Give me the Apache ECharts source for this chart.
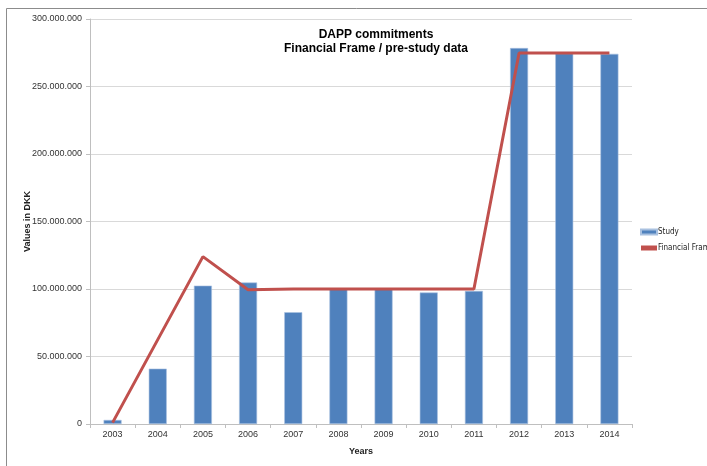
<!DOCTYPE html>
<html><head><meta charset="utf-8">
<script src="https://cdn.jsdelivr.net/npm/echarts@6/dist/echarts.min.js"></script>
<style>html,body{margin:0;padding:0;background:#fff}#c{width:707px;height:466px}</style>
</head><body><div id="c"></div>
<script>
const years = ['2003','2004','2005','2006','2007','2008','2009','2010','2011','2012','2013','2014'];
const study = [3000000, 41000000, 102500000, 104800000, 82800000, 100000000, 100000000, 97400000, 98600000, 278500000, 274500000, 274200000];
const financialFrame = [1000000, 62500000, 124000000, 99500000, 100000000, 100000000, 100000000, 100000000, 100000000, 274800000, 274800000, 274800000];

const chart = echarts.init(document.getElementById('c'), null, {renderer:'canvas'});
const fmt = v => v === 0 ? '0' : String(v).replace(/\B(?=(\d{3})+(?!\d))/g, '.');
chart.setOption({
  animation:false,
  backgroundColor:'#fff',
  graphic:[{type:'polyline', shape:{points:[[6.5,466],[6.5,8.5],[707,8.5]]}, style:{stroke:'#8c8c8c', lineWidth:1, fill:null}, silent:true}],
  title:{
    text:'DAPP commitments\nFinancial Frame / pre-study data',
    left:371, top:23, textAlign:'center',
    textStyle:{fontFamily:'Liberation Sans, Arial', fontSize:12, fontWeight:'bold', color:'#000', lineHeight:14}
  },
  legend:{
    orient:'vertical', left:640, top:228, itemGap:8, padding:0,
    itemWidth:16, itemHeight:5,
    textStyle:{fontFamily:'DejaVu Sans Condensed, Liberation Sans Narrow, Liberation Sans', fontSize:8, color:'#222', padding:[0,0,0,-4], overflow:'none', width:80},
    data:[{name:'Study', icon:'rect'}, {name:'Financial Frame', icon:'rect'}]
  },
  grid:{left:90, right:75, top:19, bottom:42, containLabel:false},
  xAxis:{
    type:'category', data:years, boundaryGap:true,
    name:'Years', nameLocation:'middle', nameGap:23,
    nameTextStyle:{fontFamily:'Liberation Sans, Arial', fontSize:9, fontWeight:'bold', color:'#222'},
    axisLine:{lineStyle:{color:'#bfbfbf'}},
    axisTick:{show:true, alignWithLabel:false, length:4, lineStyle:{color:'#bfbfbf'}},
    axisLabel:{fontFamily:'Liberation Sans, Arial', fontSize:9, color:'#333', margin:6}
  },
  yAxis:{
    type:'value', min:0, max:300000000, interval:50000000,
    name:'Values in DKK', nameLocation:'middle', nameGap:58, nameRotate:90, nameMoveOverlap:false,
    nameTextStyle:{fontFamily:'Liberation Sans, Arial', fontSize:9, fontWeight:'bold', color:'#222'},
    axisLine:{show:true, lineStyle:{color:'#bfbfbf'}},
    axisTick:{show:true, length:4, lineStyle:{color:'#bfbfbf'}},
    axisLabel:{fontFamily:'Liberation Sans, Arial', fontSize:9, color:'#333', margin:8, formatter:fmt},
    splitLine:{lineStyle:{color:'#d9d9d9', width:1}}
  },
  series:[
    {name:'Study', type:'bar', data:study, barWidth:18,
     itemStyle:{color:'#4f81bd', borderColor:'#a9c1e0', borderWidth:0.6}},
    {name:'Financial Frame', type:'line', data:financialFrame, symbol:'none',
     lineStyle:{color:'#c0504d', width:3}, itemStyle:{color:'#c0504d'}}
  ]
});
</script></body></html>
